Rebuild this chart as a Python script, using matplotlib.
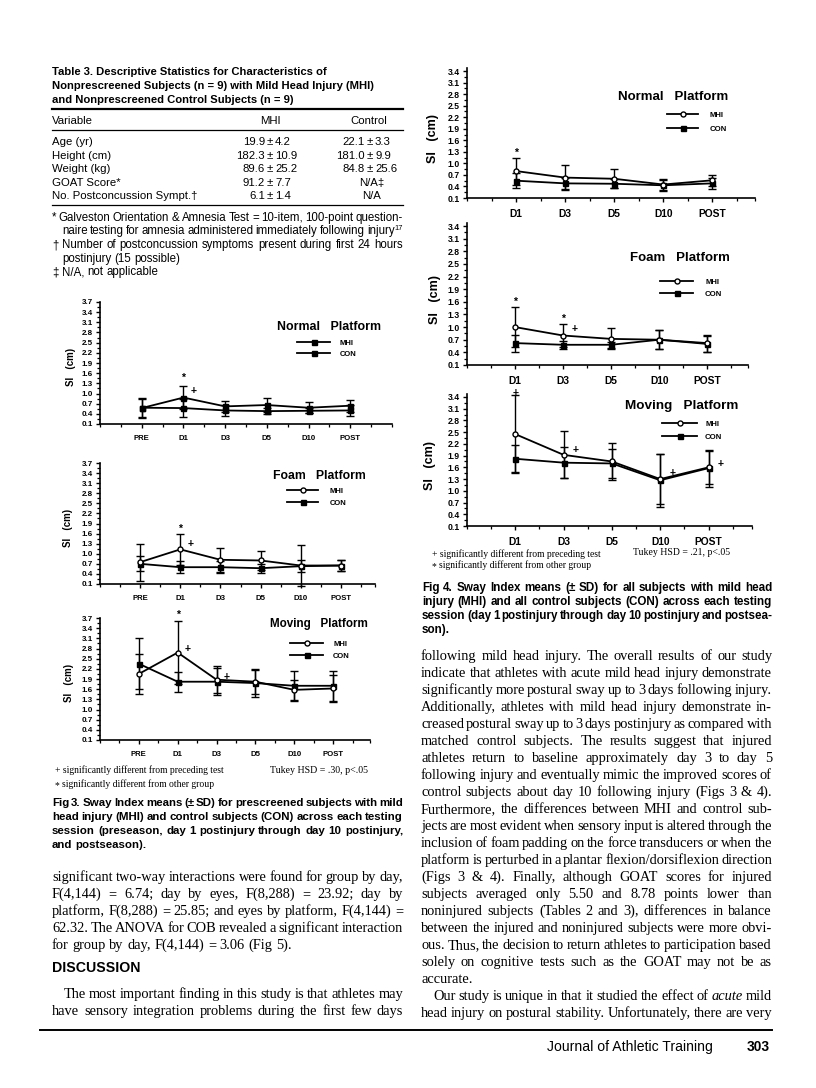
import matplotlib
matplotlib.use('Agg')
import matplotlib.pyplot as plt
from matplotlib.lines import Line2D
from matplotlib.ticker import FixedLocator
import numpy as np

# ---------------- data ----------------
table_title = ['Table 3. Descriptive Statistics for Characteristics of',
               'Nonprescreened Subjects (n = 9) with Mild Head Injury (MHI)',
               'and Nonprescreened Control Subjects (n = 9)']
table_header = ['Variable', 'MHI', 'Control']
table_vars = ['Age (yr)', 'Height (cm)', 'Weight (kg)', 'GOAT Score*', 'No. Postconcussion Sympt.\u2020']
table_mhi = [('19.9', '4.2'), ('182.3', '10.9'), ('89.6', '25.2'), ('91.2', '7.7'), ('6.1', '1.4')]
table_con = [('22.1', '3.3'), ('181.0', '9.9'), ('84.8', '25.6'), 'N/A\u2021', 'N/A']
table_notes = [('* Galveston Orientation & Amnesia Test = 10-item, 100-point question-', 'j', 0),
               ('naire testing for amnesia administered immediately following injury^17', 'j', 10),
               ('\u2020 Number of postconcussion symptoms present during first 24 hours', 'j', 0),
               ('postinjury (15 possible)', 'l', 10),
               ('\u2021 N/A, not applicable', 'l', 0)]

f3_days = ['PRE', 'D1', 'D3', 'D5', 'D10', 'POST']
f3_normal_mhi = [0.57, 0.88, 0.62, 0.66, 0.58, 0.64]
f3_normal_mhi_sd = [0.28, 0.33, 0.17, 0.22, 0.17, 0.18]
f3_normal_con = [0.58, 0.57, 0.50, 0.48, 0.49, 0.50]
f3_normal_con_sd = [0.28, 0.27, 0.15, 0.08, 0.08, 0.15]
f3_normal_marks = [('*', 'D1', 1.45, 'c'), ('+', 'D1', 1.08, 'r')]

f3_foam_mhi = [0.75, 1.13, 0.82, 0.80, 0.65, 0.65]
f3_foam_mhi_sd = [0.55, 0.45, 0.35, 0.28, 0.60, 0.17]
f3_foam_con = [0.70, 0.60, 0.60, 0.57, 0.63, 0.65]
f3_foam_con_sd = [0.22, 0.17, 0.17, 0.13, 0.17, 0.15]
f3_foam_marks = [('*', 'D1', 1.75, 'c'), ('+', 'D1', 1.28, 'r')]

f3_moving_mhi = [2.05, 2.68, 1.88, 1.82, 1.58, 1.62]
f3_moving_mhi_sd = [0.58, 0.92, 0.40, 0.37, 0.30, 0.40]
f3_moving_con = [2.35, 1.82, 1.82, 1.78, 1.70, 1.70]
f3_moving_con_sd = [0.75, 0.30, 0.40, 0.40, 0.45, 0.45]
f3_moving_marks = [('*', 'D1', 3.80, 'c'), ('+', 'D1', 2.80, 'r'), ('+', 'D3', 1.95, 'r')]

f4_days = ['D1', 'D3', 'D5', 'D10', 'POST']
f4_normal_mhi = [0.80, 0.63, 0.60, 0.45, 0.56]
f4_normal_mhi_sd = [0.35, 0.32, 0.25, 0.15, 0.15]
f4_normal_con = [0.55, 0.48, 0.47, 0.43, 0.48]
f4_normal_con_sd = [0.20, 0.15, 0.12, 0.15, 0.15]
f4_normal_marks = [('*', 'D1', 1.27, 'c')]

f4_foam_mhi = [1.00, 0.80, 0.72, 0.70, 0.62]
f4_foam_mhi_sd = [0.47, 0.28, 0.25, 0.22, 0.20]
f4_foam_con = [0.62, 0.58, 0.58, 0.70, 0.60]
f4_foam_con_sd = [0.20, 0.10, 0.07, 0.22, 0.20]
f4_foam_marks = [('*', 'D1', 1.60, 'c'), ('*', 'D3', 1.20, 'c'), ('+', 'D3', 0.95, 'r')]

f4_moving_mhi = [2.45, 1.92, 1.75, 1.30, 1.60]
f4_moving_mhi_sd = [1.00, 0.60, 0.47, 0.65, 0.42]
f4_moving_con = [1.82, 1.72, 1.70, 1.27, 1.58]
f4_moving_con_sd = [0.35, 0.40, 0.37, 0.68, 0.47]
f4_moving_marks = [('+', 'D1', 3.50, 'c'), ('+', 'D3', 2.05, 'r'), ('+', 'D10', 1.45, 'r'), ('+', 'POST', 1.68, 'r')]

legend_labels = ['MHI', 'CON']
fig3_caption = ['Fig 3. Sway Index means (\u00b1 SD) for prescreened subjects with mild',
                'head injury (MHI) and control subjects (CON) across each testing',
                'session (preseason, day 1 postinjury through day 10 postinjury,',
                'and postseason).']
fig4_caption = ['Fig 4. Sway Index means (\u00b1 SD) for all subjects with mild head',
                'injury (MHI) and all control subjects (CON) across each testing',
                'session (day 1 postinjury through day 10 postinjury and postsea-',
                'son).']
note_plus = '+ significantly different from preceding test'
note_star = 'significantly different from other group'
fig3_tukey = 'Tukey HSD = .30, p<.05'
fig4_tukey = 'Tukey HSD = .21, p<.05'

left_body = [('significant two-way interactions were found for group by day,', 'j', 0),
             ('F(4,144) = 6.74; day by eyes, F(8,288) = 23.92; day by', 'j', 0),
             ('platform, F(8,288) = 25.85; and eyes by platform, F(4,144) =', 'j', 0),
             ('62.32. The ANOVA for COB revealed a significant interaction', 'j', 0),
             ('for group by day, F(4,144) = 3.06 (Fig 5).', 'l', 0)]
left_body2 = [('The most important finding in this study is that athletes may', 'j', 12),
              ('have sensory integration problems during the first few days', 'j', 0)]
right_body = [('following mild head injury. The overall results of our study', 'j', 0),
              ('indicate that athletes with acute mild head injury demonstrate', 'j', 0),
              ('significantly more postural sway up to 3 days following injury.', 'j', 0),
              ('Additionally, athletes with mild head injury demonstrate in-', 'j', 0),
              ('creased postural sway up to 3 days postinjury as compared with', 'j', 0),
              ('matched control subjects. The results suggest that injured', 'j', 0),
              ('athletes return to baseline approximately day 3 to day 5', 'j', 0),
              ('following injury and eventually mimic the improved scores of', 'j', 0),
              ('control subjects about day 10 following injury (Figs 3 & 4).', 'j', 0),
              ('Furthermore, the differences between MHI and control sub-', 'j', 0),
              ('jects are most evident when sensory input is altered through the', 'j', 0),
              ('inclusion of foam padding on the force transducers or when the', 'j', 0),
              ('platform is perturbed in a plantar flexion/dorsiflexion direction', 'j', 0),
              ('(Figs 3 & 4). Finally, although GOAT scores for injured', 'j', 0),
              ('subjects averaged only 5.50 and 8.78 points lower than', 'j', 0),
              ('noninjured subjects (Tables 2 and 3), differences in balance', 'j', 0),
              ('between the injured and noninjured subjects were more obvi-', 'j', 0),
              ('ous. Thus, the decision to return athletes to participation based', 'j', 0),
              ('solely on cognitive tests such as the GOAT may not be as', 'j', 0),
              ('accurate.', 'l', 0),
              ('Our study is unique in that it studied the effect of _acute_ mild', 'j', 12),
              ('head injury on postural stability. Unfortunately, there are very', 'j', 0)]

# ---------------- setup ----------------
W, H = 816, 1088
fig = plt.figure(figsize=(W / 100, H / 100), dpi=100)
fig.patch.set_facecolor('white')
renderer = fig.canvas.get_renderer()
SANS = 'Liberation Sans'
SERIF = 'Liberation Serif'
plt.rcParams['font.family'] = [SANS, 'DejaVu Sans']


def fx(x):
    return x / W


def fy(y):
    return 1 - y / H


_cache = {}


def wlen(s, size, family, weight='normal', style='normal'):
    key = (s, size, family, weight, style)
    if key not in _cache:
        t = fig.text(0, 0, s, fontsize=size, family=family, weight=weight, style=style)
        _cache[key] = t.get_window_extent(renderer).width
        t.remove()
    return _cache[key]


def put(x, y, s, size, family=SANS, weight='normal', style='normal', ha='left'):
    base = y + 0.33 * size * 100 / 72
    return fig.text(fx(x), fy(base), s, fontsize=size, family=family, weight=weight,
                    style=style, ha=ha, va='baseline', color='black')


def fit(s, width, family=SANS, weight='normal'):
    return 10 * width / wlen(s, 10, family, weight)


def parse(text):
    words = []
    for w in text.split(' '):
        if w.startswith('_') and w.endswith('_'):
            words.append([(w[1:-1], 'italic', False)])
        elif '^' in w:
            a, b = w.split('^')
            words.append([(a, 'normal', False), (b, 'normal', True)])
        else:
            words.append([(w, 'normal', False)])
    return words


def word_w(word, size, family, weight):
    tot = 0
    for s, st, sup in word:
        tot += wlen(s, size * (0.65 if sup else 1), family, weight, st)
    return tot


def space_w(size, family, weight):
    return wlen('n n', size, family, weight) - wlen('nn', size, family, weight)


def draw_word(word, x, y, size, family, weight):
    for s, st, sup in word:
        if sup:
            put(x, y - 0.3 * size * 100 / 72, s, size * 0.65, family, weight, st)
            x += wlen(s, size * 0.65, family, weight, st)
        else:
            put(x, y, s, size, family, weight, st)
            x += wlen(s, size, family, weight, st)


def block(lines, x0, x1, y0, dy, family, weight='normal', size=None):
    if size is None:
        ratios = []
        for text, mode, ind in lines:
            if mode == 'j':
                words = parse(text)
                ww = sum(word_w(w, 10, family, weight) for w in words)
                sp = space_w(10, family, weight) * (len(words) - 1) * 0.6
                ratios.append((x1 - x0 - ind) / (ww + sp))
        size = 10 * min(ratios)
    for i, (text, mode, ind) in enumerate(lines):
        y = y0 + i * dy
        words = parse(text)
        widths = [word_w(w, size, family, weight) for w in words]
        if mode == 'j' and len(words) > 1:
            gap = (x1 - x0 - ind - sum(widths)) / (len(words) - 1)
        else:
            gap = space_w(size, family, weight)
        x = x0 + ind
        for w, wd in zip(words, widths):
            draw_word(w, x, y, size, family, weight)
            x += wd + gap
    return size


def hline(x0, x1, y, lw):
    fig.add_artist(Line2D([fx(x0), fx(x1)], [fy(y), fy(y)], color='black', lw=lw))


# ---------------- table 3 ----------------
ts = fit(table_title[1], 323, SANS, 'bold')
for i, s in enumerate(table_title):
    put(52, 71 + 14 * i, s, ts, SANS, 'bold')
hline(52, 403, 108.5, 1.6)
rs = fit(table_vars[-1], 145, SANS)
put(52, 120, table_header[0], rs)
put(270, 120, table_header[1], rs, ha='center')
put(369, 120, table_header[2], rs, ha='center')
hline(52, 403, 130, 0.9)
for i, v in enumerate(table_vars):
    y = 141.5 + 13.5 * i
    put(52, y, v, rs)
    for xpm, val in ((270, table_mhi[i]), (370, table_con[i])):
        if isinstance(val, tuple):
            put(xpm - 5, y, val[0], rs, ha='right')
            put(xpm, y, '\u00b1', rs, ha='center')
            put(xpm + 5, y, val[1], rs, ha='left')
        else:
            put(xpm + 2, y, val, rs, ha='center')
hline(52, 403, 205, 0.9)
block(table_notes, 52, 403, 217, 13.6, SANS)


# ---------------- panels ----------------
def panel(box, xlim, ytop_val, ymax, days, mhi, mhi_sd, con, con_sd, mhi_style, marks,
          xfs, yfs, cap, ylab_x, ylab_fs):
    x0, ytop, x1, ybot = box
    ppu = (ybot - ytop) / (ytop_val - 0.1)
    top_px = ybot - (ymax - 0.1) * ppu
    ax = fig.add_axes([fx(x0), fy(ybot), (x1 - x0) / W, (ybot - top_px) / H])
    ax.set_xlim(*xlim)
    ax.set_ylim(0.1, ymax)
    xs = np.arange(1, len(days) + 1)
    ax.errorbar(xs, con, yerr=con_sd, color='black', lw=1.3, elinewidth=1.0, capsize=cap,
                capthick=1.0, marker='s', ms=3.6, mfc='black', mec='black', zorder=3, clip_on=False)
    ax.errorbar(xs, mhi, yerr=mhi_sd, color='black', lw=1.3, elinewidth=1.0, capsize=cap,
                capthick=1.0, marker=mhi_style[0], ms=3.6, mfc=mhi_style[1], mec='black',
                mew=1.0, zorder=4, clip_on=False)
    yt = np.round(np.arange(0.1, ytop_val + 0.001, 0.3), 1)
    ax.set_yticks(yt)
    ax.set_yticklabels([f'{v:.1f}' for v in yt], fontsize=yfs, fontweight='bold', family=SANS)
    ax.yaxis.set_minor_locator(FixedLocator(np.arange(0.25, ytop_val, 0.3)))
    ax.set_xticks(xs)
    ax.set_xticklabels(days, fontsize=xfs, fontweight='bold', family=SANS)
    ax.xaxis.set_minor_locator(FixedLocator(list(np.arange(0, xlim[1], 0.5)) + [xlim[1]]))
    for sp in ('top', 'right'):
        ax.spines[sp].set_visible(False)
    for sp in ('left', 'bottom'):
        ax.spines[sp].set_linewidth(1.2)
    ax.tick_params(which='major', direction='out', length=3, width=1.0, pad=2)
    ax.tick_params(which='minor', direction='out', length=2, width=0.9)
    ax.tick_params(axis='x', which='major', pad=5)
    ax.set_facecolor('none')
    for sym, day, y, side in marks:
        xi = days.index(day) + 1 + (0.25 if side == 'r' else 0)
        ax.text(xi, y, sym, ha='center', va='center', fontsize=7.5, fontweight='bold',
                family=SANS, clip_on=False)
    fig.text(fx(ylab_x), fy((ytop + ybot) / 2 + 4), 'SI   (cm)', rotation=90, ha='center',
             va='center', fontsize=ylab_fs, fontweight='bold', family=SANS)
    return ax


def legend(title, tx, ty, twidth, lx0, lx1, lbx, ly1, ly2, mhi_style, fs):
    put(tx, ty, title, fit(title, twidth, SANS, 'bold'), SANS, 'bold')
    for lab, y, m, mfc in ((legend_labels[0], ly1, mhi_style[0], mhi_style[1]),
                           (legend_labels[1], ly2, 's', 'black')):
        fig.add_artist(Line2D([fx(lx0), fx((lx0 + lx1) / 2), fx(lx1)], [fy(y)] * 3, color='black',
                              lw=1.3, marker=m, markevery=[1], ms=3.6, mfc=mfc, mec='black'))
        put(lbx, y, lab, fs, SANS, 'bold')


# Figure 3
sq = ('s', 'black')
oc = ('o', 'white')
panel((100, 302, 392, 424), (0, 7.0), 3.7, 3.7, f3_days, f3_normal_mhi, f3_normal_mhi_sd,
      f3_normal_con, f3_normal_con_sd, sq, f3_normal_marks, 5.6, 5.8, 2.6, 71, 7)
legend('Normal   Platform', 277, 326, 103, 297, 330, 340, 342, 353, sq, 5.5)
panel((100, 463, 375, 584), (0, 6.85), 3.7, 3.7, f3_days, f3_foam_mhi, f3_foam_mhi_sd,
      f3_foam_con, f3_foam_con_sd, oc, f3_foam_marks, 5.6, 5.8, 2.6, 68, 7)
legend('Foam   Platform', 273, 475, 92, 287, 318, 330, 490, 502, oc, 5.5)
panel((100, 618, 370, 740), (0, 6.95), 3.7, 3.7, f3_days, f3_moving_mhi, f3_moving_mhi_sd,
      f3_moving_con, f3_moving_con_sd, oc, f3_moving_marks, 5.6, 5.8, 2.6, 69, 7)
legend('Moving   Platform', 270, 623, 98, 290, 323, 333, 643, 655, oc, 5.5)

ns = fit(note_plus, 168, SERIF)
put(55, 770, note_plus, ns, SERIF)
put(55, 785, '*', ns, SERIF)
put(62, 784, note_star, ns, SERIF)
put(270, 770, fig3_tukey, fit(fig3_tukey, 98, SERIF), SERIF)
block([(s, 'j' if i < 3 else 'l', 0) for i, s in enumerate(fig3_caption)], 52, 403, 802, 14,
      SANS, 'bold')

# Figure 4
panel((467, 71, 755, 198), (0, 5.87), 3.4, 3.48, f4_days, f4_normal_mhi, f4_normal_mhi_sd,
      f4_normal_con, f4_normal_con_sd, oc, f4_normal_marks, 7.4, 6.2, 3.0, 433, 9)
legend('Normal   Platform', 618, 96, 110, 667, 698, 710, 114, 128, oc, 5.6)
panel((467, 226, 748, 365), (0, 5.85), 3.4, 3.48, f4_days, f4_foam_mhi, f4_foam_mhi_sd,
      f4_foam_con, f4_foam_con_sd, oc, f4_foam_marks, 7.4, 6.2, 3.0, 435, 9)
legend('Foam   Platform', 630, 257, 100, 660, 693, 705, 281, 293, oc, 5.6)
panel((467, 397, 752, 526), (0, 5.9), 3.4, 3.48, f4_days, f4_moving_mhi, f4_moving_mhi_sd,
      f4_moving_con, f4_moving_con_sd, oc, f4_moving_marks, 7.4, 6.2, 3.0, 430, 9)
legend('Moving   Platform', 625, 405, 113, 662, 697, 705, 423, 436, oc, 5.6)

ns4 = fit(note_plus, 170, SERIF)
put(432, 554, note_plus, ns4, SERIF)
put(432, 566, '*', ns4, SERIF)
put(439, 565, note_star, ns4, SERIF)
put(633, 552, fig4_tukey, fit(fig4_tukey, 97, SERIF), SERIF)
block([(s, 'j' if i < 3 else 'l', 0) for i, s in enumerate(fig4_caption)], 422, 772, 587, 14,
      SANS, 'bold')

# ---------------- body text ----------------
bs = block(right_body, 421, 772, 655, 17.0, SERIF)
block(left_body, 52, 403, 876, 17.0, SERIF, size=bs)
put(52, 967, 'DISCUSSION', fit('DISCUSSION', 88, SANS, 'bold'), SANS, 'bold')
block(left_body2, 52, 403, 993, 17.0, SERIF, size=bs)

hline(40, 772, 1030, 1.4)
put(713, 1046, 'Journal of Athletic Training', fit('Journal of Athletic Training', 165, SANS), SANS,
    ha='right')
put(770, 1046, '303', fit('303', 23, SANS, 'bold'), SANS, 'bold', ha='right')

fig.savefig('out.png', dpi=100, facecolor='white')
